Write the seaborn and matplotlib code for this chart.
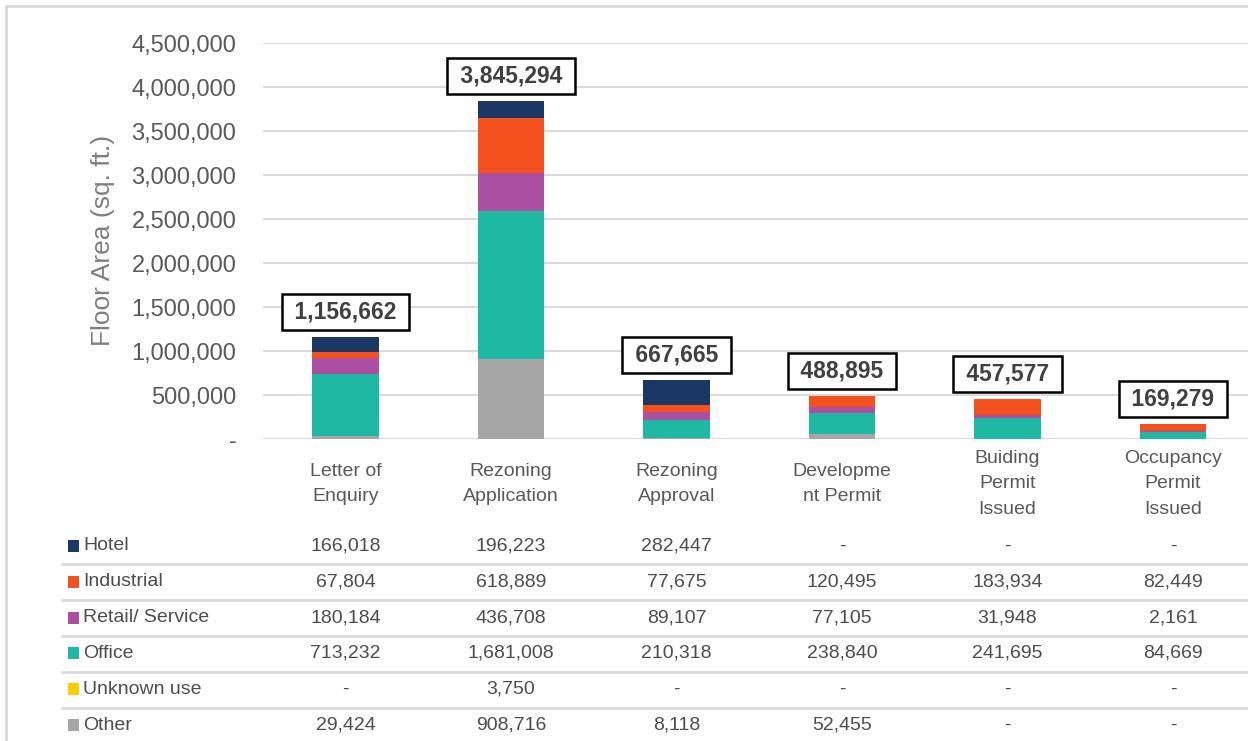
import matplotlib
matplotlib.use("Agg")
import matplotlib.pyplot as plt
import matplotlib.transforms as mtransforms
from matplotlib.patches import Rectangle
from matplotlib.lines import Line2D
from matplotlib.ticker import FuncFormatter
import seaborn as sns
import pandas as pd

# ---------------- data ----------------
stages = ["Letter of\nEnquiry", "Rezoning\nApplication", "Rezoning\nApproval",
          "Developme\nnt Permit", "Buiding\nPermit\nIssued", "Occupancy\nPermit\nIssued"]
uses = ["Hotel", "Industrial", "Retail/ Service", "Office", "Unknown use", "Other"]
hotel = [166018, 196223, 282447, 0, 0, 0]
industrial = [67804, 618889, 77675, 120495, 183934, 82449]
retail = [180184, 436708, 89107, 77105, 31948, 2161]
office = [713232, 1681008, 210318, 238840, 241695, 84669]
unknown = [0, 3750, 0, 0, 0, 0]
other = [29424, 908716, 8118, 52455, 0, 0]
colors = ["#1b3764", "#f4511e", "#ab4fa3", "#1fb8a2", "#ffcc00", "#a6a6a6"]
yticks = [0, 500000, 1000000, 1500000, 2000000, 2500000, 3000000, 3500000, 4000000, 4500000]

series = [hotel, industrial, retail, office, unknown, other]
totals = [sum(v) for v in zip(*series)]

rows = []
for use, vals in zip(uses, series):
    for st, v in zip(stages, vals):
        rows.append({"stage": st, "use": use, "value": v})
df = pd.DataFrame(rows)
df["stage"] = pd.Categorical(df["stage"], categories=stages, ordered=True)

# ---------------- style ----------------
sns.set_theme(style="white")
plt.rcParams["font.family"] = ["Liberation Sans", "DejaVu Sans"]

W, H = 1248, 741
fig = plt.figure(figsize=(W / 100, H / 100), dpi=100)
fig.patch.set_facecolor("white")

ax_left, ax_right = 262.75, 1255.75
ax_top, ax_bottom = 43.3, 439.0
ax = fig.add_axes([ax_left / W, 1 - ax_bottom / H, (ax_right - ax_left) / W, (ax_bottom - ax_top) / H])

sns.histplot(data=df, x="stage", hue="use", weights="value", multiple="stack",
             hue_order=uses, palette=colors, discrete=True, shrink=0.4,
             edgecolor="none", linewidth=0, alpha=1, legend=False, ax=ax)

ax.set_xlim(-0.5, len(stages) - 0.5)
ax.set_ylim(0, 4500000)
ax.set_yticks(yticks)
ax.yaxis.set_major_formatter(FuncFormatter(lambda v, p: "-" if v == 0 else f"{int(v):,}"))
ax.tick_params(axis="y", length=0, pad=19, labelsize=17, labelcolor="#595959")
ax.tick_params(axis="x", length=0, labelbottom=False)
ax.set_xlabel("")
ax.set_ylabel("")
ax.grid(axis="y", color="#d9d9d9", linewidth=1.4)
ax.grid(axis="x", visible=False)
ax.set_axisbelow(True)
for s in ax.spines.values():
    s.set_visible(False)

fig.text(103 / W, 1 - 240 / H, "Floor Area (sq. ft.)", rotation=90, ha="center", va="center",
         fontsize=19, color="#7f7f7f")

# total labels in boxes
for i, t in enumerate(totals):
    ax.annotate(f" {t:,} ", (i, t), xytext=(0, 18), textcoords="offset points",
                ha="center", va="center", fontsize=16.5, fontweight="bold", color="#404040",
                bbox=dict(boxstyle="square,pad=0.28", fc="white", ec="black", lw=1.8),
                annotation_clip=False)

# ---------------- data table ----------------
trans = mtransforms.blended_transform_factory(ax.transData, fig.transFigure)
for i, st in enumerate(stages):
    ax.text(i, 1 - 484 / H, st, transform=trans, ha="center", va="center",
            multialignment="center", fontsize=14, color="#595959", linespacing=1.65)

row_y = [546, 582, 618, 653, 689, 725]
sep_y = [564, 600, 636, 672, 708]
for y in sep_y:
    fig.add_artist(Line2D([62 / W, 1.0], [1 - y / H, 1 - y / H], color="#d9d9d9", lw=2))

for r, (use, vals, c) in enumerate(zip(uses, series, colors)):
    y = 1 - row_y[r] / H
    fig.add_artist(Rectangle((68 / W, y - 6 / H), 11 / W, 12 / H, transform=fig.transFigure,
                             facecolor=c, edgecolor="none"))
    fig.text(83 / W, y, use, ha="left", va="center", fontsize=14, color="#4d4d4d")
    for i, v in enumerate(vals):
        ax.text(i, y, "-" if v == 0 else f"{v:,}", transform=trans, ha="center", va="center",
                fontsize=14, color="#4d4d4d")

# outer frame (left and top edges)
fig.add_artist(Line2D([6 / W, 6 / W], [0, 1 - 6 / H], color="#d9d9d9", lw=2))
fig.add_artist(Line2D([6 / W, 1.0], [1 - 6 / H, 1 - 6 / H], color="#d9d9d9", lw=2))

fig.savefig("out.png", dpi=100, facecolor="white")
